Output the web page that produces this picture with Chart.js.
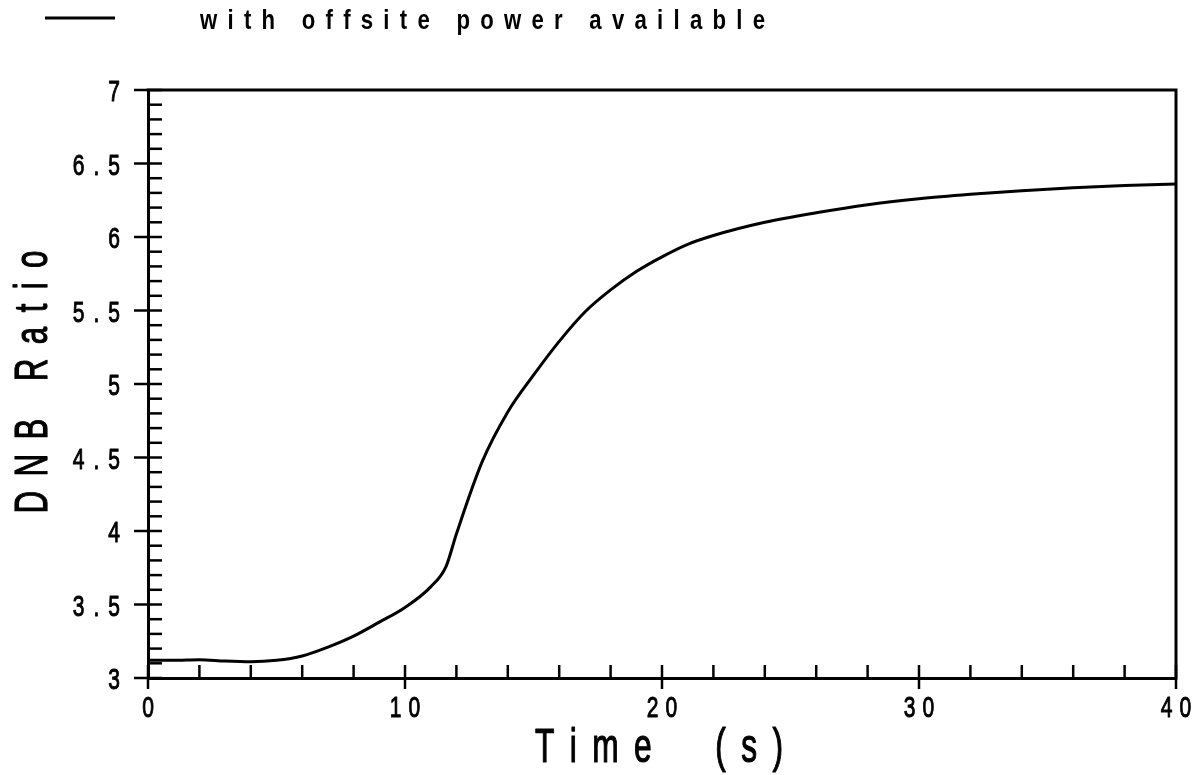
<!DOCTYPE html>
<html>
<head>
<meta charset="utf-8">
<script src="https://cdn.jsdelivr.net/npm/chart.js@4.4.1/dist/chart.umd.min.js"></script>
<style>
  html, body { margin: 0; padding: 0; background: #fff; }
</style>
</head>
<body>
<canvas id="dnbChart" width="1204" height="775"></canvas>
<script>
// data
const timeS = [0, 1, 2, 3, 4, 5, 6, 7, 8, 9, 10, 11, 11.6, 12, 13, 14, 15, 16, 17, 18, 19, 20, 21, 22, 24, 26, 28, 30, 32, 34, 36, 38, 40];
const dnbRatio = [3.12, 3.12, 3.125, 3.115, 3.11, 3.12, 3.15, 3.21, 3.285, 3.38, 3.48, 3.62, 3.76, 3.98, 4.47, 4.81, 5.06, 5.29, 5.49, 5.64, 5.765, 5.865, 5.95, 6.01, 6.10, 6.165, 6.22, 6.26, 6.29, 6.315, 6.335, 6.35, 6.36];

const seriesLabel = 'with offsite power available';
const xTitle = 'Time  (s)';
const yTitle = 'DNB Ratio';

const xTickLabels = [0, 10, 20, 30, 40];
const yTickLabels = [3, 3.5, 4, 4.5, 5, 5.5, 6, 6.5, 7];
const xMinorStep = 2;
const yMinorStep = 0.1;

// draws text one glyph at a time, squeezed horizontally and spread out
function spacedText(ctx, text, x, y, o) {
  ctx.save();
  ctx.font = (o.weight || 'normal') + ' ' + o.size + 'px "Liberation Sans", Arial, sans-serif';
  ctx.fillStyle = '#000';
  ctx.strokeStyle = '#000';
  ctx.lineJoin = 'round';
  ctx.textBaseline = 'alphabetic';
  ctx.textAlign = 'left';
  const sq = o.squeeze || 1;
  const widths = [...text].map(c => ctx.measureText(c).width * sq);
  const glyphs = widths.reduce((a, b) => a + b, 0);
  let gap = o.spacing;
  if (o.width) gap = (o.width - glyphs) / (text.length - 1);
  const total = glyphs + gap * (text.length - 1);
  ctx.translate(x, y);
  if (o.rotate) ctx.rotate(o.rotate);
  let cx = o.align === 'right' ? -total : o.align === 'left' ? 0 : -total / 2;
  [...text].forEach((c, i) => {
    ctx.save();
    ctx.translate(cx, 0);
    ctx.scale(sq, 1);
    ctx.fillText(c, 0, 0);
    if (o.stroke) {
      ctx.lineWidth = o.stroke;
      ctx.strokeText(c, 0, 0);
    }
    ctx.restore();
    cx += widths[i] + gap;
  });
  ctx.restore();
}

const plotDecor = {
  id: 'plotDecor',
  afterDraw(chart) {
    const ctx = chart.ctx;
    const a = chart.chartArea;
    const xs = chart.scales.x;
    const ys = chart.scales.y;
    ctx.save();
    ctx.strokeStyle = '#000';
    ctx.lineCap = 'butt';

    // top and right frame
    ctx.lineWidth = 3;
    ctx.beginPath();
    ctx.moveTo(a.left - 1.5, a.top);
    ctx.lineTo(a.right, a.top);
    ctx.lineTo(a.right, a.bottom + 1.5);
    ctx.stroke();

    // x ticks: inward minors every 2 s, majors crossing the axis
    ctx.lineWidth = 2.5;
    for (let v = xs.min; v <= xs.max + 1e-9; v += xMinorStep) {
      const px = xs.getPixelForValue(v);
      const major = xTickLabels.includes(v);
      ctx.beginPath();
      ctx.moveTo(px, a.bottom - 13);
      ctx.lineTo(px, a.bottom + (major ? 11 : 0));
      ctx.stroke();
    }
    // y ticks: inward minors every 0.1, majors crossing the axis
    const nY = Math.round((ys.max - ys.min) / yMinorStep);
    for (let k = 0; k <= nY; k++) {
      const v = ys.min + k * yMinorStep;
      const py = ys.getPixelForValue(v);
      const major = k % 5 === 0;
      ctx.beginPath();
      ctx.moveTo(a.left - (major ? 14 : 0), py);
      ctx.lineTo(a.left + 14, py);
      ctx.stroke();
    }

    // tick labels
    xTickLabels.forEach(v => {
      spacedText(ctx, String(v), xs.getPixelForValue(v), a.bottom + 39, { size: 30, squeeze: 0.7, spacing: 7, stroke: 1 });
    });
    yTickLabels.forEach(v => {
      spacedText(ctx, String(v), a.left - 28, ys.getPixelForValue(v) + 11, { size: 30, squeeze: 0.7, spacing: 9, align: 'right', stroke: 1 });
    });

    // axis titles
    spacedText(ctx, xTitle, (a.left + a.right) / 2 - 3, 762, { size: 48, squeeze: 0.66, width: 248, stroke: 1.2 });
    spacedText(ctx, yTitle, 47, 382, { size: 46, squeeze: 0.68, width: 263, rotate: -Math.PI / 2, stroke: 1.2 });

    // legend
    ctx.lineWidth = 3;
    ctx.beginPath();
    ctx.moveTo(45, 18);
    ctx.lineTo(115, 18);
    ctx.stroke();
    spacedText(ctx, chart.data.datasets[0].label, 200, 29, { size: 27, weight: 'bold', squeeze: 0.82, width: 565, align: 'left' });
    ctx.restore();
  }
};

const ctx = document.getElementById('dnbChart').getContext('2d');

const dnbChart = new Chart(ctx, {
  type: 'line',
  data: {
    datasets: [{
      label: seriesLabel,
      data: timeS.map((t, i) => ({ x: t, y: dnbRatio[i] })),
      borderColor: '#000',
      borderWidth: 3,
      pointRadius: 0,
      fill: false,
      cubicInterpolationMode: 'monotone',
    }],
  },
  options: {
    responsive: false,
    devicePixelRatio: 1,
    animation: false,
    events: [],
    layout: { padding: { top: 90, right: 28, left: 0, bottom: 0 } },
    plugins: {
      legend: { display: false },
      tooltip: { enabled: false },
    },
    scales: {
      x: {
        type: 'linear',
        min: 0,
        max: 40,
        ticks: { display: false, stepSize: xMinorStep },
        grid: { display: false },
        border: { display: true, color: '#000', width: 3 },
        afterFit: s => { s.height = 97; },
      },
      y: {
        min: 3,
        max: 7,
        ticks: { display: false, stepSize: yMinorStep },
        grid: { display: false },
        border: { display: true, color: '#000', width: 3 },
        afterFit: s => { s.width = 148; },
      },
    },
  },
  plugins: [plotDecor],
});
</script>
</body>
</html>
